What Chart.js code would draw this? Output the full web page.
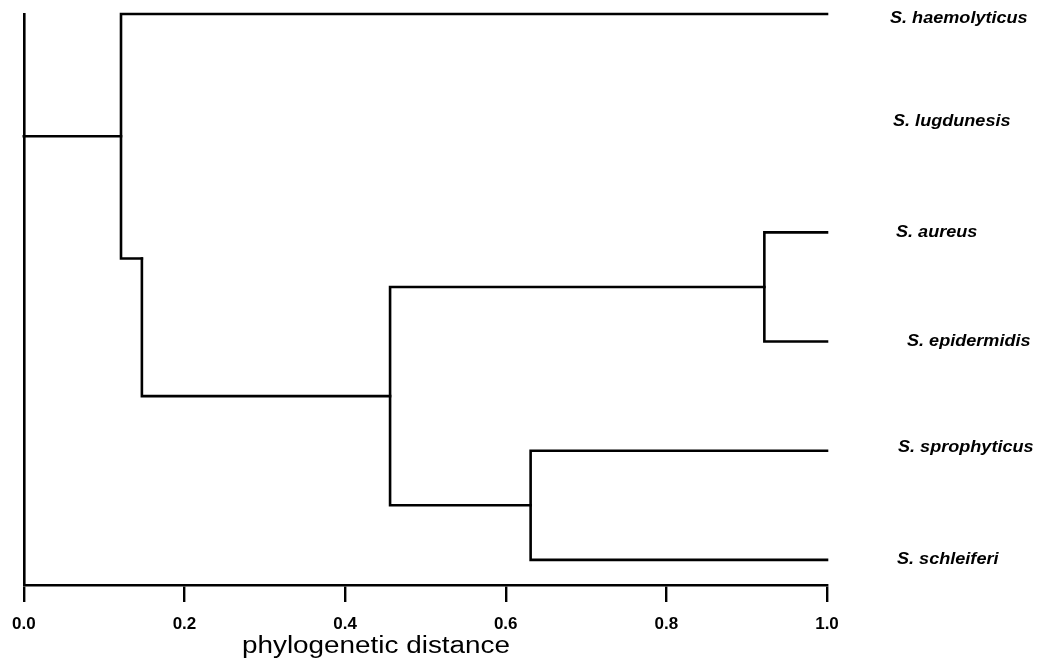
<!DOCTYPE html>
<html><head><meta charset="utf-8">
<script src="https://cdn.jsdelivr.net/npm/chart.js@4.4.1/dist/chart.umd.min.js"></script>
<style>html,body{margin:0;padding:0;background:#fff}#wrap{width:1042px;height:663px;position:relative}</style>
</head><body><div id="wrap"><canvas id="c"></canvas></div>
<script>
// ---- data ----
const leafNames = ['S. haemolyticus', 'S. lugdunesis', 'S. aureus', 'S. epidermidis', 'S. sprophyticus', 'S. schleiferi'];
const leafPos = [1, 2, 3, 4, 5, 6];
const leafDistance = [1.0, 1.0, 1.0, 1.0, 1.0, 1.0];
const nodeDistance = [0.121, 0.147, 0.456, 0.922, 0.631];
const nodePos = [2.12, 3.24, 4.5, 3.5, 5.5];
const nodeChildA = ['leaf:0', 'node:1', 'node:3', 'leaf:2', 'leaf:4'];
const nodeChildB = ['node:1', 'node:2', 'node:4', 'leaf:3', 'leaf:5'];
const tickValues = [0.0, 0.2, 0.4, 0.6, 0.8, 1.0];
const tickLabels = ['0.0', '0.2', '0.4', '0.6', '0.8', '1.0'];
const axisTitle = 'phylogenetic distance';

function ref(key) {
  const [t, i] = key.split(':');
  const k = +i;
  return t === 'leaf' ? { x: leafDistance[k], y: leafPos[k] } : { x: nodeDistance[k], y: nodePos[k] };
}

const lineStyle = { borderColor: '#000', borderWidth: 2.6, pointRadius: 0, showLine: true, fill: false, tension: 0, clip: false, borderJoinStyle: 'miter', borderCapStyle: 'square' };
const datasets = [];
// root stem
datasets.push(Object.assign({ data: [{ x: 0, y: nodePos[0] }, { x: nodeDistance[0], y: nodePos[0] }] }, lineStyle));
for (let i = 0; i < nodeDistance.length; i++) {
  const a = ref(nodeChildA[i]), b = ref(nodeChildB[i]);
  datasets.push(Object.assign({
    data: [{ x: a.x, y: a.y }, { x: nodeDistance[i], y: a.y }, { x: nodeDistance[i], y: b.y }, { x: b.x, y: b.y }]
  }, lineStyle));
}

const labelPlugin = {
  id: 'labels',
  afterDraw(chart) {
    const ctx = chart.ctx;
    const ys = chart.scales.y;
    const xOff = [890, 893, 896, 907, 898, 897];
    const yOff = [5, -2, 0, 0, -3, 0];
    ctx.save();
    ctx.fillStyle = '#000';
    ctx.font = 'italic bold 16px "Liberation Sans", Arial, sans-serif';
    ctx.textBaseline = 'middle';
    ctx.textAlign = 'left';
    leafNames.forEach((n, i) => {
      const y = ys.getPixelForValue(leafPos[i]) + yOff[i];
      ctx.save();
      ctx.translate(xOff[i], y);
      ctx.scale(1.13, 1);
      ctx.fillText(n, 0, 0);
      ctx.restore();
    });
    // axis title
    ctx.font = '23px "Liberation Sans", Arial, sans-serif';
    ctx.textBaseline = 'alphabetic';
    const w = ctx.measureText(axisTitle).width;
    const sx = 268 / w;
    ctx.translate(376, 653);
    ctx.scale(sx, 1);
    ctx.textAlign = 'center';
    ctx.fillText(axisTitle, 0, 0);
    ctx.restore();
  }
};

new Chart(document.getElementById('c'), {
  type: 'scatter',
  data: { datasets },
  options: {
    responsive: true,
    maintainAspectRatio: false,
    animation: false,
    layout: { padding: { left: 0, right: 215, top: 14, bottom: 0 } },
    plugins: { legend: { display: false }, tooltip: { enabled: false }, title: { display: false } },
    scales: {
      x: {
        type: 'linear', min: 0, max: 1,
        afterBuildTicks(s) { s.ticks = tickValues.map(v => ({ value: v })); },
        afterFit(s) { s.height = 78; },
        ticks: {
          color: '#000', padding: 12, maxRotation: 0, autoSkip: false,
          font: { family: '"Liberation Sans", Arial, sans-serif', size: 17, weight: 'bold' },
          callback(v) { const i = tickValues.findIndex(t => Math.abs(t - v) < 1e-9); return i >= 0 ? tickLabels[i] : ''; }
        },
        grid: { drawOnChartArea: false, drawTicks: true, tickLength: 17, color: '#000', lineWidth: 2.4 },
        border: { display: true, color: '#000', width: 2.6 }
      },
      y: {
        type: 'linear', reverse: true, min: 1, max: 6.23,
        afterFit(s) { s.width = 23; },
        ticks: { display: false },
        grid: { display: false, drawTicks: false },
        border: { display: true, color: '#000', width: 2.6 }
      }
    }
  },
  plugins: [labelPlugin]
});
</script>
</body></html>
